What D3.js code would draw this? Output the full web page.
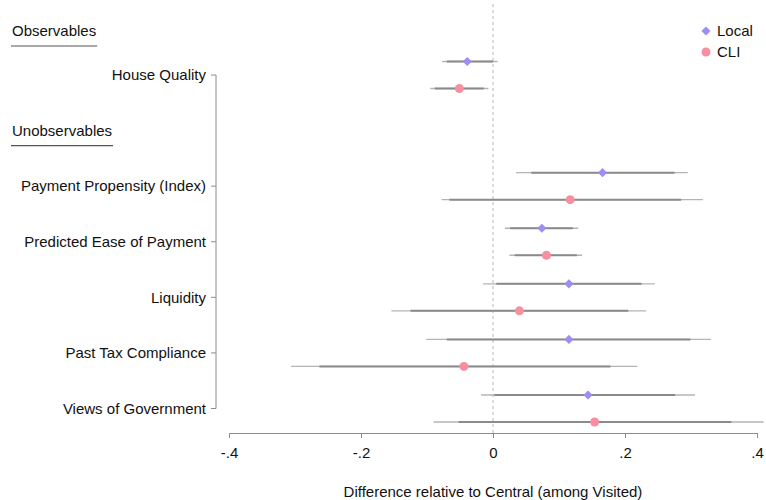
<!DOCTYPE html>
<html>
<head>
<meta charset="utf-8">
<script src="https://cdn.jsdelivr.net/npm/d3@7"></script>
<style>
  html, body { margin: 0; padding: 0; background: #fff; }
  svg { display: block; font-family: "Liberation Sans", Arial, Helvetica, sans-serif; }
</style>
</head>
<body>
<svg id="chart" width="766" height="500"></svg>
<script>
// Outcome rows and their vertical slot (slot 1 holds the "Unobservables" heading)
const categories = ["House Quality", "Payment Propensity (Index)", "Predicted Ease of Payment",
                    "Liquidity", "Past Tax Compliance", "Views of Government"];
const slots = [0, 2, 3, 4, 5, 6];

// Local treatment: point estimates with 90% and 95% intervals
const localEst  = [-0.039, 0.166, 0.074, 0.115, 0.115, 0.144];
const localLo95 = [-0.077, 0.035, 0.018, -0.015, -0.101, -0.018];
const localHi95 = [0.007, 0.295, 0.129, 0.245, 0.330, 0.306];
const localLo90 = [-0.070, 0.058, 0.026, 0.005, -0.070, 0.002];
const localHi90 = [0.000, 0.275, 0.121, 0.225, 0.299, 0.276];

// CLI treatment: point estimates with 90% and 95% intervals
const cliEst  = [-0.051, 0.117, 0.081, 0.040, -0.044, 0.154];
const cliLo95 = [-0.095, -0.078, 0.025, -0.154, -0.306, -0.090];
const cliHi95 = [-0.007, 0.318, 0.135, 0.232, 0.219, 0.410];
const cliLo90 = [-0.088, -0.066, 0.033, -0.125, -0.263, -0.052];
const cliHi90 = [-0.014, 0.285, 0.127, 0.205, 0.178, 0.361];

const xTicks = [-0.4, -0.2, 0, 0.2, 0.4];
const xTickLabels = ["-.4", "-.2", "0", ".2", ".4"];
const seriesNames = ["Local", "CLI"];
const seriesColors = ["#9b8ff4", "#f88fa0"];

const svg = d3.select("#chart");
const fontSize = 15;

const x = d3.scaleLinear().domain([-0.4, 0.4]).range([229, 757]);
const y = d3.scaleLinear().domain([0, 6]).range([75, 408.5]);
const offset = 13.5;

// Square diamond (rotated square) and circle markers
const diamondPath = d3.symbol().type(d3.symbolSquare).size(42);
const circlePath = d3.symbol().type(d3.symbolCircle).size(64);

const series = [
  { name: seriesNames[0], color: seriesColors[0], path: diamondPath, rot: 45, dy: -offset,
    est: localEst, lo95: localLo95, hi95: localHi95, lo90: localLo90, hi90: localHi90 },
  { name: seriesNames[1], color: seriesColors[1], path: circlePath, rot: 0, dy: offset,
    est: cliEst, lo95: cliLo95, hi95: cliHi95, lo90: cliLo90, hi90: cliHi90 }
];

// Reference line at zero
svg.append("line")
  .attr("x1", x(0)).attr("x2", x(0))
  .attr("y1", 4).attr("y2", 433)
  .attr("stroke", "#b8b8b8").attr("stroke-width", 1)
  .attr("stroke-dasharray", "3,3");

// Confidence intervals and point estimates
series.forEach(s => {
  const g = svg.append("g");
  const rows = categories.map((c, i) => ({ i, yy: y(slots[i]) + s.dy }));
  g.selectAll("line.ci95").data(rows).join("line")
    .attr("class", "ci95")
    .attr("x1", d => x(s.lo95[d.i])).attr("x2", d => x(s.hi95[d.i]))
    .attr("y1", d => d.yy).attr("y2", d => d.yy)
    .attr("stroke", "#b4b4b4").attr("stroke-width", 1.4);
  g.selectAll("line.ci90").data(rows).join("line")
    .attr("class", "ci90")
    .attr("x1", d => x(s.lo90[d.i])).attr("x2", d => x(s.hi90[d.i]))
    .attr("y1", d => d.yy).attr("y2", d => d.yy)
    .attr("stroke", "#8a8a8a").attr("stroke-width", 2);
  g.selectAll("path.pt").data(rows).join("path")
    .attr("class", "pt")
    .attr("d", s.path())
    .attr("transform", d => `translate(${x(s.est[d.i])},${d.yy}) rotate(${s.rot})`)
    .attr("fill", s.color);
});

// Y axis (category labels)
const yAxis = svg.append("g").attr("transform", "translate(216,0)");
yAxis.append("line")
  .attr("x1", 0).attr("x2", 0)
  .attr("y1", y(0)).attr("y2", y(6))
  .attr("stroke", "#8c8c8c").attr("stroke-width", 1);
yAxis.selectAll("line.tick").data(slots).join("line")
  .attr("class", "tick")
  .attr("x1", -5).attr("x2", 0)
  .attr("y1", d => y(d)).attr("y2", d => y(d))
  .attr("stroke", "#8c8c8c").attr("stroke-width", 1);
yAxis.selectAll("text").data(categories).join("text")
  .attr("x", -10).attr("y", (d, i) => y(slots[i]))
  .attr("dy", "0.35em")
  .attr("text-anchor", "end")
  .attr("font-size", fontSize)
  .attr("fill", "#111")
  .text(d => d);

// Group headings with underline
const headings = [
  { text: "Observables", yy: 31 },
  { text: "Unobservables", yy: y(1) }
];
headings.forEach(h => {
  const t = svg.append("text")
    .attr("x", 12).attr("y", h.yy).attr("dy", "0.35em")
    .attr("font-size", fontSize).attr("fill", "#111")
    .text(h.text);
  const w = t.node().getComputedTextLength();
  svg.append("line")
    .attr("x1", 11).attr("x2", 12 + w + 1)
    .attr("y1", h.yy + 15).attr("y2", h.yy + 15)
    .attr("stroke", "#555").attr("stroke-width", 1.2);
});

// X axis
const xAxis = svg.append("g").attr("transform", "translate(0,433)");
xAxis.call(d3.axisBottom(x).tickValues(xTicks)
  .tickFormat((d, i) => xTickLabels[i]).tickSize(5).tickPadding(9));
xAxis.select(".domain").attr("stroke", "#8c8c8c");
xAxis.selectAll(".tick line").attr("stroke", "#8c8c8c");
xAxis.selectAll(".tick text")
  .attr("font-size", fontSize).attr("fill", "#111")
  .attr("font-family", "'Liberation Sans', Arial, sans-serif");

svg.append("text")
  .attr("x", x(0)).attr("y", 492).attr("dy", "0.35em")
  .attr("text-anchor", "middle")
  .attr("font-size", fontSize).attr("fill", "#111")
  .text("Difference relative to Central (among Visited)");

// Legend
const legend = svg.append("g").attr("transform", "translate(706,31)");
series.forEach((s, i) => {
  legend.append("path")
    .attr("d", s.path())
    .attr("transform", `translate(0,${i * 21}) rotate(${s.rot})`)
    .attr("fill", s.color);
  legend.append("text")
    .attr("x", 11).attr("y", i * 21).attr("dy", "0.35em")
    .attr("font-size", fontSize).attr("fill", "#111")
    .text(s.name);
});
</script>
</body>
</html>
